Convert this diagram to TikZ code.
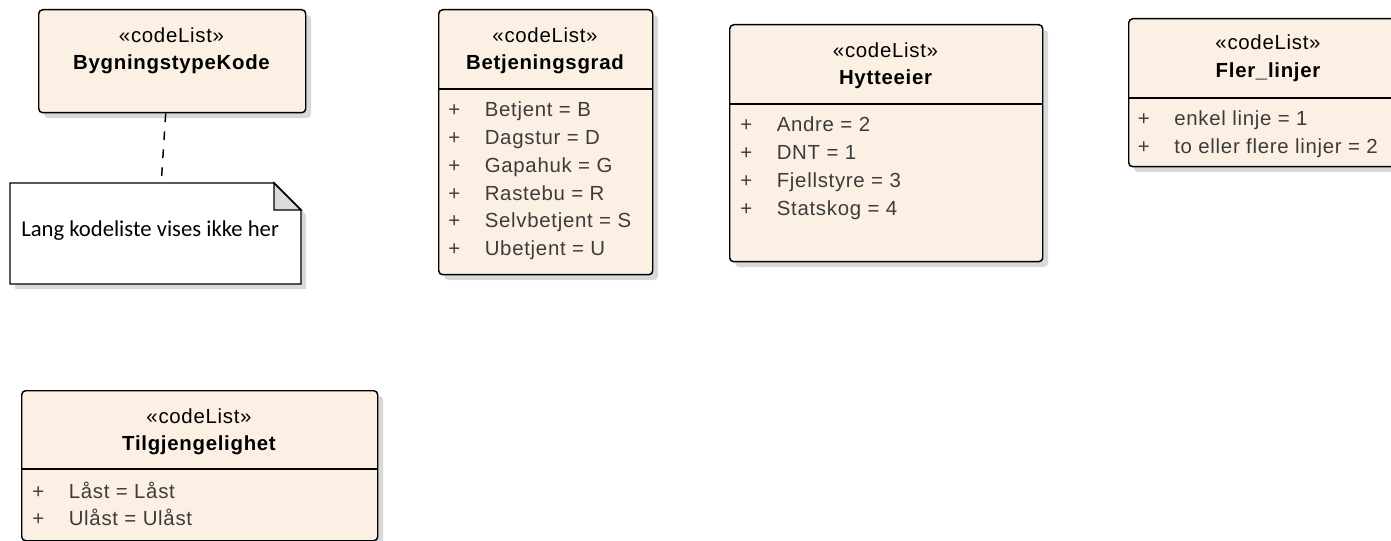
\documentclass[tikz,border=0pt]{standalone}
\usepackage{fontspec}
\setmainfont[LetterSpace=3.5]{Liberation Sans}
\newfontfamily\notefont{Carlito}
\usetikzlibrary{positioning,shadows}
\definecolor{classfill}{HTML}{FBF0E3}
\definecolor{rowtext}{HTML}{3C3C3C}
\definecolor{shadowgray}{HTML}{D9D9D9}
\begin{document}
\begin{tikzpicture}[x=0.75pt,y=-0.75pt,
	box/.style={draw, line width=1.1pt, rounded corners=3pt, fill=classfill, anchor=north west, inner sep=0pt,
		drop shadow={shadow xshift=4pt, shadow yshift=-4pt, fill=shadowgray, opacity=1}},
	stereo/.style={anchor=base, inner sep=0pt, font=\fontsize{15.3}{18}\selectfont},
	cname/.style={anchor=base, inner sep=0pt, font=\fontsize{15.3}{18}\selectfont\bfseries},
	row/.style={anchor=base west, inner sep=0pt, text=rowtext, font=\fontsize{15.3}{18}\selectfont},
	divider/.style={line width=1pt},
	notebox/.style={draw, line width=1.1pt, line join=miter}]
	\clip (0,0) rectangle (1391,541);
	% class boxes
	\node (bygn) [box, minimum width=200.25pt, minimum height=77.25pt] at (38,9) {};
	\node (betj) [box, minimum width=160.5pt, minimum height=198.75pt] at (438,9) {};
	\node (hytt) [box, minimum width=234.75pt, minimum height=177.75pt] at (729,24) {};
	\node (fler) [box, minimum width=210pt, minimum height=111pt] at (1128,18) {};
	\node (tilg) [box, minimum width=267pt, minimum height=112.5pt] at (21,390) {};
	\draw[divider] (438,89) -- (652,89);
	\draw[divider] (729,104) -- (1042,104);
	\draw[divider] (1128,98) -- (1408,98);
	\draw[divider] (21,469) -- (377,469);
	% headers
	\node (bygn-st) [stereo] at (171.5,42.7) {«codeList»};
	\node (bygn-nm) [cname] at (171.5,70) {BygningstypeKode};
	\node (betj-st) [stereo] at (545,43) {«codeList»};
	\node (betj-nm) [cname] at (545,70) {Betjeningsgrad};
	\node (hytt-st) [stereo] at (885.5,58) {«codeList»};
	\node (hytt-nm) [cname] at (885.5,85) {Hytteeier};
	\node (fler-st) [stereo] at (1268,50) {«codeList»};
	\node (fler-nm) [cname] at (1268,78) {Fler\_linjer};
	\node (tilg-st) [stereo] at (199,423) {«codeList»};
	\node (tilg-nm) [cname] at (199,450) {Tilgjengelighet};
	% attributes
	\foreach \t [count=\i from 0] in {Betjent = B, Dagstur = D, Gapahuk = G, Rastebu = R, Selvbetjent = S, Ubetjent = U}
		\node (betj-\i) [row] at (448,117+27.7*\i) {\makebox[27.4pt][l]{+}\t};
	\foreach \t [count=\i from 0] in {Andre = 2, DNT = 1, Fjellstyre = 3, Statskog = 4}
		\node (hytt-\i) [row] at (740,132+28*\i) {\makebox[27.4pt][l]{+}\t};
	\foreach \t [count=\i from 0] in {enkel linje = 1, to eller flere linjer = 2}
		\node (fler-\i) [row] at (1137.5,126+28*\i) {\makebox[27.4pt][l]{+}\t};
	\foreach \t [count=\i from 0] in {Låst = Låst, Ulåst = Ulåst}
		\node (tilg-\i) [row] at (32,498+27*\i) {\makebox[27.4pt][l]{+}\t};
	% note
	\node (note) [anchor=north west, inner sep=0pt, minimum width=218.25pt, minimum height=75.75pt] at (10,183) {};
	\fill[shadowgray] (15,188) -- (279,188) -- (306,215) -- (306,289) -- (15,289) -- cycle;
	\draw[notebox, fill=white] (10,183) -- (274,183) -- (301,210) -- (301,284) -- (10,284) -- cycle;
	\draw[notebox, fill=black!14] (274,183) -- (274,210) -- (301,210) -- cycle;
	\node (note-txt) [anchor=base west, inner sep=0pt, font=\notefont\fontsize{17}{20}\selectfont] at (21,236.7) {Lang kodeliste vises ikke her};
	\draw[line width=1.1pt, dash pattern=on 6.5pt off 7pt] ([xshift=-4.9pt]bygn.south) -- ([xshift=4.1pt]note.north);
\end{tikzpicture}
\end{document}
